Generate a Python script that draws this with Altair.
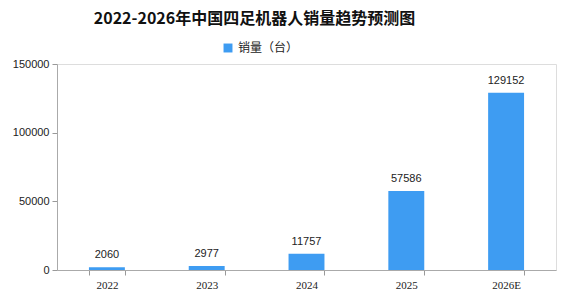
import altair as alt
import pandas as pd

years = ["2022", "2023", "2024", "2025", "2026E"]
sales = [2060, 2977, 11757, 57586, 129152]
series_name = "销量（台）"

df = pd.DataFrame({"年份": years, "销量": sales, "系列": [series_name] * len(years)})

base = alt.Chart(df).encode(
    x=alt.X(
        "年份:N",
        sort=years,
        title=None,
        scale=alt.Scale(paddingInner=0.64, paddingOuter=0.32),
        axis=alt.Axis(
            labelAngle=0, labelFont="Liberation Serif", labelFontSize=11, labelColor="#222",
            labelPadding=4, tickBand="extent", tickSize=5, tickColor="#999",
            domainColor="#aaa", grid=False,
        ),
    ),
    y=alt.Y(
        "销量:Q",
        title=None,
        scale=alt.Scale(domain=[0, 150000]),
        axis=alt.Axis(
            values=[0, 50000, 100000, 150000], format="d", labelFont="Liberation Sans",
            labelFontSize=11, labelColor="#222", tickSize=5, tickColor="#999",
            domainColor="#aaa", grid=False, labelPadding=3,
        ),
    ),
)

bars = base.mark_bar(color="#3E9CF2").encode(
    color=alt.Color(
        "系列:N",
        scale=alt.Scale(range=["#3E9CF2"]),
        legend=alt.Legend(
            title=None, orient="none", legendX=165, legendY=-22, symbolType="square",
            symbolSize=80, symbolStrokeWidth=0, labelFont="Noto Sans CJK SC", labelFontSize=12,
            labelColor="#222",
        ),
    )
)

labels = base.mark_text(
    dy=-12, font="Liberation Sans", fontSize=11, color="#222"
).encode(text="销量:Q")

chart = (
    alt.layer(bars, labels)
    .properties(
        width=499,
        height=206,
        autosize=alt.AutoSizeParams(type="none"),
        padding={"left": 57, "top": 64, "right": 23, "bottom": 24},
        title=alt.TitleParams(
            "2022-2026年中国四足机器人销量趋势预测图",
            font="Noto Sans CJK SC", fontSize=16, fontWeight="bold", color="#111",
            anchor="middle", offset=15, dx=-52,
        ),
    )
    .configure_view(stroke=None)
    .configure(background="white")
)

chart.save("out.html", embed_options={"renderer": "svg", "actions": False})
